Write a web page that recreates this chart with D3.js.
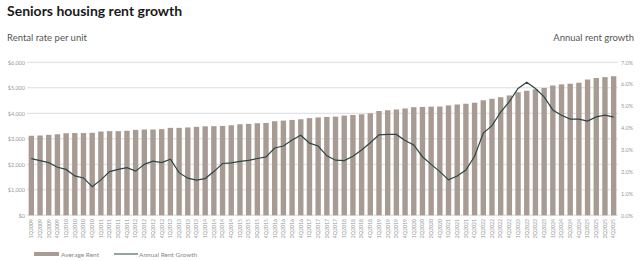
<!DOCTYPE html>
<html><head><meta charset="utf-8">
<script src="https://cdn.jsdelivr.net/npm/d3@7/dist/d3.min.js"></script>
<style>body{margin:0;background:#fff}svg{display:block}</style>
</head><body><svg id="c" width="640" height="261"></svg>
<script>
const years = d3.range(2009, 2026);
const quarters = years.flatMap(y => [1,2,3,4].map(q => q + "Q" + y));
const averageRent = [
 3120, 3130, 3155, 3180, 3220, 3225, 3225, 3235, 3285, 3300,
 3300, 3315, 3350, 3365, 3365, 3380, 3430, 3430, 3445, 3470,
 3490, 3495, 3505, 3530, 3570, 3585, 3610, 3623, 3688, 3714,
 3740, 3766, 3810, 3838, 3857, 3870, 3910, 3935, 3960, 4000,
 4090, 4120, 4150, 4190, 4240, 4250, 4260, 4265, 4310, 4345,
 4375, 4415, 4510, 4570, 4630, 4700, 4825, 4883, 4940, 4995,
 5090, 5135, 5160, 5200, 5325, 5385, 5420, 5455];
const annualGrowth = [
 2.59, 2.5, 2.41, 2.2, 2.1, 1.8, 1.71, 1.31, 1.62, 2.0,
 2.1, 2.18, 2.02, 2.33, 2.48, 2.41, 2.57, 1.95, 1.7, 1.61,
 1.68, 2.0, 2.37, 2.4, 2.47, 2.51, 2.6, 2.67, 3.08, 3.17,
 3.45, 3.66, 3.3, 3.17, 2.72, 2.52, 2.5, 2.7, 2.99, 3.32,
 3.68, 3.7, 3.7, 3.42, 3.22, 2.68, 2.33, 2.0, 1.62, 1.8,
 2.07, 2.7, 3.76, 4.1, 4.72, 5.2, 5.8, 6.09, 5.8, 5.42,
 4.82, 4.58, 4.4, 4.4, 4.31, 4.5, 4.58, 4.49];
const leftTicks = [0, 1000, 2000, 3000, 4000, 5000, 6000];
const rightTicks = [0, 1, 2, 3, 4, 5, 6, 7];
const title = "Seniors housing rent growth";
const leftTitle = "Rental rate per unit";
const rightTitle = "Annual rent growth";
const legendLabels = ["Average Rent", "Annual Rent Growth"];

const barColor = "#a89b93", lineColor = "#2b4746", gridColor = "#dcdcdc", tickColor = "#999";
const svg = d3.select("#c");
const x = d3.scaleBand().domain(quarters).range([27, 618]).paddingInner(0.38).paddingOuter(0.19);
const yL = d3.scaleLinear().domain([0, 6000]).range([215.3, 62.3]);
const yR = d3.scaleLinear().domain([0, 7]).range([215.3, 62.3]);

// grid
svg.append("g").selectAll("line").data(leftTicks).join("line")
  .attr("x1", 27).attr("x2", 618).attr("y1", d => yL(d)).attr("y2", d => yL(d))
  .attr("stroke", gridColor).attr("stroke-width", 1);

// left axis
const ga = svg.append("g").attr("transform", "translate(25,0)")
  .call(d3.axisLeft(yL).tickValues(leftTicks).tickSize(0).tickPadding(0).tickFormat(d => "$" + d3.format(",")(d)));
ga.select(".domain").remove();
ga.selectAll("text").attr("fill", tickColor).style("font-family", "Lato, sans-serif").style("font-size", "5.5px");

const gr = svg.append("g").attr("transform", "translate(621,0)")
  .call(d3.axisRight(yR).tickValues(rightTicks).tickSize(0).tickPadding(0).tickFormat(d => d3.format(".1f")(d) + "%"));
gr.select(".domain").remove();
gr.selectAll("text").attr("fill", tickColor).style("font-family", "Lato, sans-serif").style("font-size", "5.5px");

// bars
svg.append("g").selectAll("rect").data(quarters).join("rect")
  .attr("x", d => x(d)).attr("width", x.bandwidth())
  .attr("y", (d, i) => yL(averageRent[i])).attr("height", (d, i) => yL(0) - yL(averageRent[i]))
  .attr("fill", barColor);

// line
svg.append("path").datum(annualGrowth)
  .attr("d", d3.line().x((d, i) => x(quarters[i]) + x.bandwidth() / 2).y(d => yR(d)))
  .attr("fill", "none").attr("stroke", lineColor).attr("stroke-width", 1.2);

// x axis labels
const gx = svg.append("g").attr("transform", "translate(0,217)")
  .call(d3.axisBottom(x).tickSize(0).tickPadding(0));
gx.select(".domain").remove();
gx.selectAll("text").attr("fill", tickColor).style("font-family", "Lato, sans-serif").style("font-size", "5.2px")
  .attr("transform", "rotate(-90)").attr("text-anchor", "end").attr("x", -2).attr("y", 0).attr("dy", "0.35em");

// titles
svg.append("text").attr("x", 7).attr("y", 16).text(title)
  .style("font-family", "Lato, sans-serif").style("font-weight", "bold").style("font-size", "14px").attr("fill", "#1a1a1a");
svg.append("text").attr("x", 7).attr("y", 41).text(leftTitle)
  .style("font-family", "Lato, sans-serif").style("font-size", "9.5px").attr("fill", "#555");
svg.append("text").attr("x", 634).attr("y", 41).attr("text-anchor", "end").text(rightTitle)
  .style("font-family", "Lato, sans-serif").style("font-size", "9.5px").attr("fill", "#555");

// legend
const lg = svg.append("g");
lg.append("rect").attr("x", 34).attr("y", 252).attr("width", 25).attr("height", 4).attr("fill", barColor);
lg.append("text").attr("x", 61).attr("y", 256.5).text(legendLabels[0])
  .style("font-family", "Lato, sans-serif").style("font-size", "6.5px").attr("fill", "#888");
lg.append("line").attr("x1", 114).attr("x2", 138).attr("y1", 254).attr("y2", 254).attr("stroke", lineColor).attr("stroke-width", 1);
lg.append("text").attr("x", 139).attr("y", 256.5).text(legendLabels[1])
  .style("font-family", "Lato, sans-serif").style("font-size", "6.5px").attr("fill", "#888");
</script></body></html>
